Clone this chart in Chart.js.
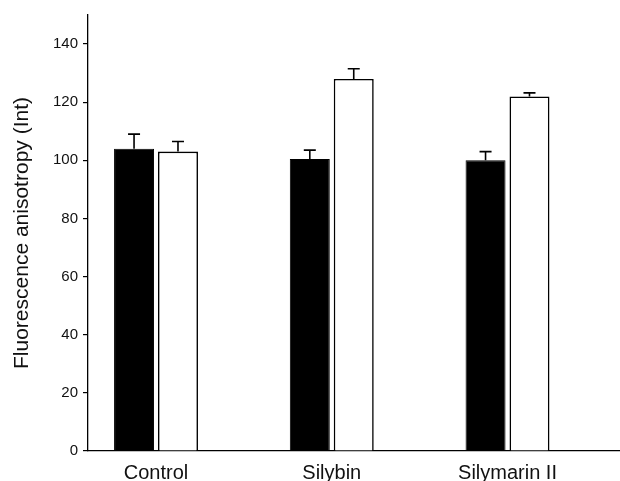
<!DOCTYPE html>
<html>
<head>
<meta charset="utf-8">
<script src="https://cdn.jsdelivr.net/npm/chart.js@4"></script>
<style>
html,body{margin:0;padding:0;background:#fff;}
#wrap{width:620px;height:481px;position:relative;}
</style>
</head>
<body>
<div id="wrap"><canvas id="c" width="620" height="481"></canvas></div>
<script>
const categories = ["Control", "Silybin", "Silymarin II"];
const blackValues = [104, 100.5, 100];
const blackErrors = [5, 3, 3];
const whiteValues = [103, 128, 122];
const whiteErrors = [3.5, 3.5, 1.2];
const yTicks = [0, 20, 40, 60, 80, 100, 120, 140];

const errorSets = [blackErrors, whiteErrors];

const errorBarPlugin = {
  id: 'errorBars',
  afterDatasetsDraw(chart) {
    const ctx = chart.ctx;
    const yScale = chart.scales.y;
    chart.data.datasets.forEach((ds, di) => {
      const meta = chart.getDatasetMeta(di);
      meta.data.forEach((el, i) => {
        const v = ds.data[i].y;
        const e = errorSets[di][i];
        const yTop = yScale.getPixelForValue(v + e);
        ctx.save();
        ctx.strokeStyle = '#000';
        ctx.lineWidth = 1.6;
        ctx.beginPath();
        ctx.moveTo(el.x, el.y);
        ctx.lineTo(el.x, yTop);
        ctx.moveTo(el.x - 6, yTop);
        ctx.lineTo(el.x + 6, yTop);
        ctx.stroke();
        ctx.restore();
      });
    });
  }
};

const toPoints = arr => arr.map((v, i) => ({x: i, y: v}));

new Chart(document.getElementById('c'), {
  type: 'bar',
  data: {
    datasets: [
      {
        data: toPoints(blackValues),
        backgroundColor: '#000',
        borderColor: '#000',
        borderWidth: 1,
        categoryPercentage: 0.5,
        barPercentage: 0.91
      },
      {
        data: toPoints(whiteValues),
        backgroundColor: '#fff',
        borderColor: '#000',
        borderWidth: 1.6,
        categoryPercentage: 0.5,
        barPercentage: 0.91
      }
    ]
  },
  plugins: [errorBarPlugin],
  options: {
    responsive: false,
    animation: false,
    layout: {padding: {left: 10, top: 15, right: 0, bottom: 0}},
    plugins: {legend: {display: false}, tooltip: {enabled: false}},
    scales: {
      x: {
        type: 'linear',
        offset: false,
        min: -0.387,
        max: 2.64,
        afterBuildTicks: s => { s.ticks = categories.map((c, i) => ({value: i})); },
        afterFit: s => { s.height = 30; },
        grid: {display: false, drawTicks: false, offset: false},
        border: {display: true, color: '#000', width: 1.3},
        ticks: {
          color: '#111',
          padding: 10,
          maxRotation: 0,
          font: {family: 'Liberation Sans', size: 20},
          callback: v => categories[v] ?? ''
        }
      },
      y: {
        min: 0,
        max: 150,
        afterBuildTicks: s => { s.ticks = yTicks.map(v => ({value: v})); },
        afterFit: s => { s.width = 78; },
        grid: {display: true, drawOnChartArea: false, drawTicks: true, tickLength: 5, color: '#000', lineWidth: 1.2},
        border: {display: true, color: '#000', width: 1.3},
        ticks: {
          color: '#111',
          padding: 5,
          font: {family: 'Liberation Sans', size: 15}
        },
        title: {
          display: true,
          text: 'Fluorescence anisotropy (Int)',
          color: '#111',
          padding: {top: 0, bottom: 0},
          font: {family: 'Liberation Sans', size: 21}
        }
      }
    }
  }
});
</script>
</body>
</html>
